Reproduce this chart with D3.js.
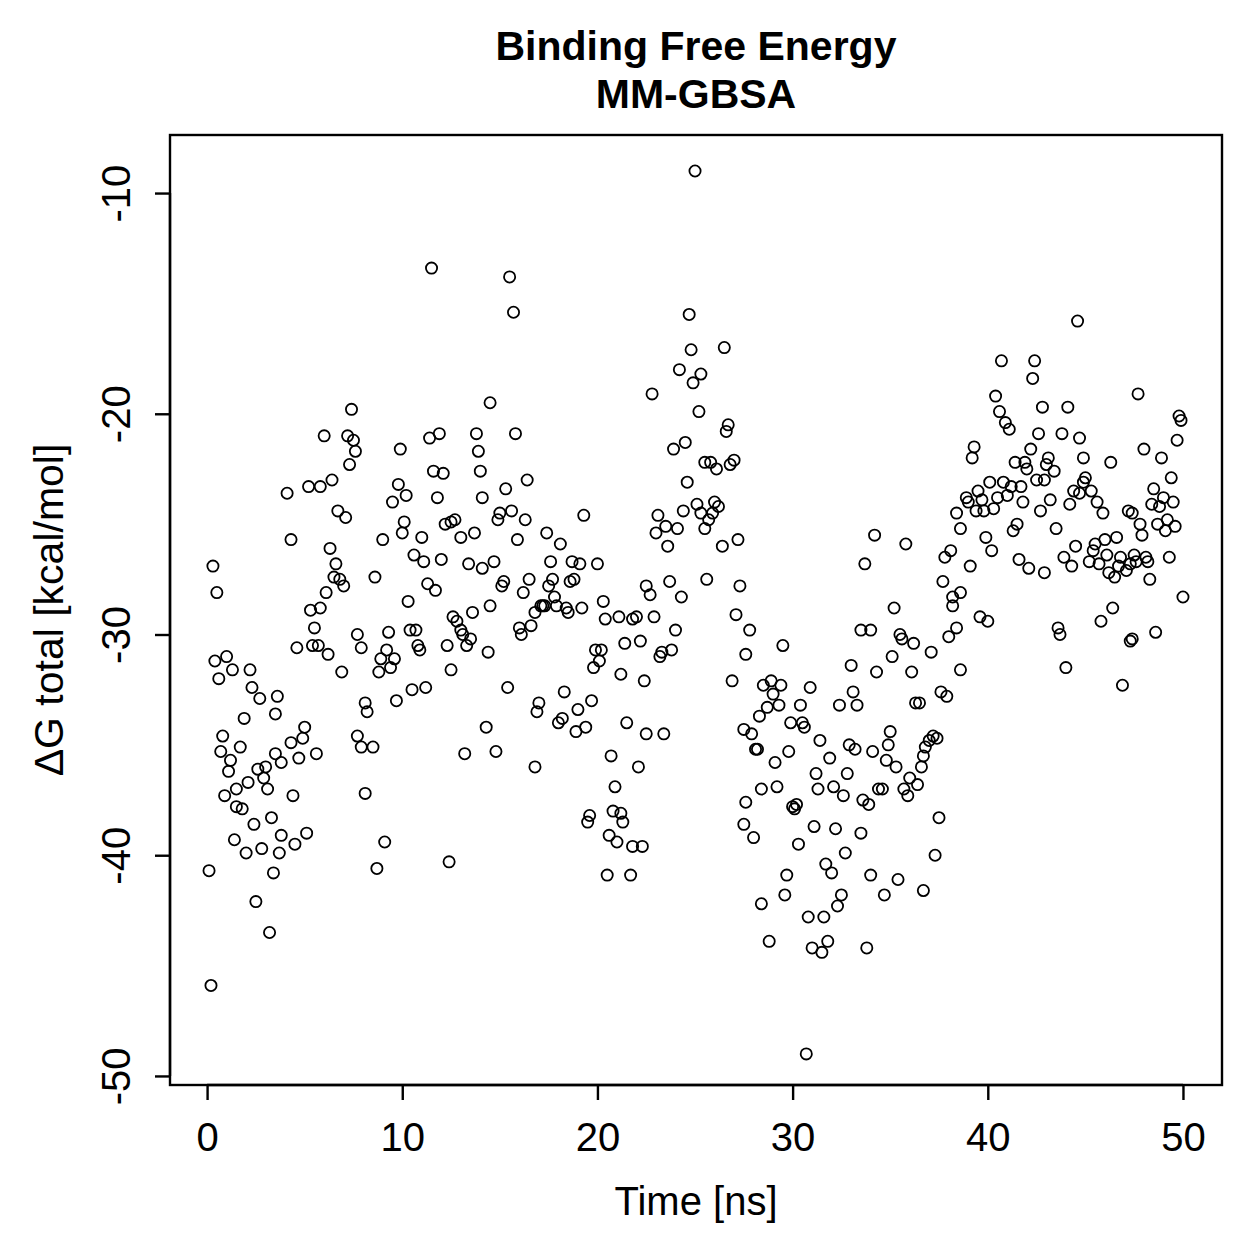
<!DOCTYPE html>
<html><head><meta charset="utf-8">
<script src="https://cdn.jsdelivr.net/npm/d3@7"></script>
<style>body{margin:0;background:#fff}svg{display:block}text{font-family:"Liberation Sans",Arial,Helvetica,sans-serif}</style>
</head><body>
<svg id="c" width="1259" height="1259"></svg>
<script>
const titleLines = ["Binding Free Energy", "MM-GBSA"];
const xLabel = "Time [ns]";
const yLabel = "\u0394G total [kcal/mol]";
const xTicks = [0, 10, 20, 30, 40, 50];
const yTicks = [-50, -40, -30, -20, -10];

const time = [
0.3,0.5,0.4,1.0,1.3,2.2,0.6,2.3,2.7,3.6,3.5,1.9,0.8,0.7,1.7,1.2,1.1,3.5,3.8,2.6,3.0,2.9,3.1,2.1,1.5,0.9,1.5,1.8,3.3,2.4,3.8,1.4,2.8,2.0,3.7,0.1,3.4,2.5,3.2,0.2,
7.4,6.0,7.2,7.5,7.6,7.3,4.1,5.2,5.8,6.4,6.7,7.1,4.3,6.3,6.6,6.5,6.8,7.0,6.1,5.3,5.8,5.5,7.7,4.6,7.9,5.4,5.7,6.2,6.9,5.0,4.9,4.3,4.7,5.6,7.7,7.9,8.1,4.4,4.5,5.1,8.1,8.2,
11.5,11.9,11.4,9.9,11.6,12.1,9.8,10.2,9.5,11.8,10.1,10.0,12.2,12.5,9.0,11.0,10.6,11.1,12.0,8.6,11.3,11.7,10.3,9.3,10.4,10.7,10.8,10.9,9.2,8.9,9.6,8.8,9.4,12.3,12.5,10.5,11.2,9.7,8.5,9.1,8.7,12.4,
15.5,15.7,14.5,13.8,15.8,13.9,14.0,14.1,16.4,15.3,15.6,15.0,14.9,16.3,15.9,12.7,13.0,13.7,13.4,14.1,14.7,15.2,15.1,16.5,16.2,16.8,16.6,14.5,13.6,12.6,12.8,13.0,13.1,13.5,13.3,16.0,16.1,14.4,15.4,14.3,13.2,14.8,
19.3,17.4,18.1,17.6,18.7,19.1,20.0,17.7,17.5,18.6,18.8,17.8,17.1,17.2,17.3,17.9,18.4,18.5,19.2,20.3,20.4,21.1,19.9,20.2,20.1,19.8,21.4,21.2,18.3,17.0,16.9,19.0,19.7,18.2,18.0,18.9,19.4,21.5,16.8,20.7,20.9,20.8,21.2,19.6,19.5,21.3,20.6,21.0,20.5,
25.0,24.7,24.8,24.2,25.3,22.8,24.9,25.2,23.9,24.5,24.6,24.4,25.1,25.3,23.1,23.0,23.5,24.1,23.6,25.6,22.5,22.7,23.7,24.3,21.8,22.0,22.9,24.0,22.2,23.3,23.2,23.8,22.4,22.5,23.4,22.1,21.8,22.3,21.7,
26.5,26.7,26.6,25.5,25.8,26.1,26.8,27.0,26.0,26.2,25.9,25.7,25.5,26.4,27.2,27.3,27.1,27.8,27.6,26.9,28.5,28.9,29.4,29.0,28.7,29.3,28.3,27.5,27.9,28.1,28.2,29.1,28.4,29.2,27.6,27.5,28.0,28.4,28.8,
34.2,33.7,33.5,34.0,29.5,33.0,34.3,30.9,33.1,33.3,30.4,32.4,29.9,30.5,30.6,29.8,31.4,31.9,32.9,33.2,34.1,31.2,32.8,31.3,32.1,32.6,33.6,33.9,30.0,30.1,30.2,30.3,31.1,32.2,33.5,32.7,31.7,32.0,29.7,29.6,34.0,32.5,32.3,30.8,31.6,31.8,31.0,31.5,33.8,30.7,
38.4,38.6,35.8,38.1,37.8,37.7,38.2,38.2,38.6,35.2,38.4,38.0,35.5,35.6,36.2,37.1,35.1,36.1,38.6,37.6,37.9,36.3,36.5,35.0,34.9,34.8,35.3,37.2,37.4,37.0,36.8,36.7,36.6,36.0,35.7,36.4,35.9,34.4,34.6,37.5,37.3,35.4,34.7,36.7,
40.7,42.4,42.3,40.4,40.6,40.9,41.1,42.8,42.6,39.3,39.2,42.2,41.4,41.9,42.0,43.0,43.1,40.1,40.8,41.2,41.7,42.5,42.9,39.5,38.9,39.0,39.7,40.5,41.0,39.4,39.8,40.3,41.8,42.7,43.2,41.5,41.3,39.9,40.2,41.6,42.1,42.9,39.1,39.6,40.0,
44.6,44.1,43.8,44.7,43.4,44.9,46.3,45.0,44.9,45.3,44.4,44.7,45.6,45.9,44.2,43.5,44.5,46.0,46.6,45.5,45.4,43.9,44.3,45.2,45.7,46.1,46.2,46.5,46.8,46.7,47.1,46.4,45.8,43.6,43.7,44.0,46.9,
47.7,49.8,49.9,49.7,48.0,48.9,49.4,48.5,49.0,49.5,48.4,48.8,47.2,47.4,47.8,47.9,49.2,48.7,49.1,49.6,47.5,48.1,47.6,48.2,47.3,49.3,48.3,50.0,47.4,47.3,48.6
];

const dG = [
-26.9,-28.1,-31.2,-31.0,-31.6,-31.6,-32.0,-32.4,-32.9,-32.8,-33.6,-33.8,-34.6,-35.3,-35.1,-35.7,-36.2,-35.4,-35.8,-36.1,-36.0,-36.5,-37.0,-36.7,-37.0,-37.3,-37.8,-37.9,-38.3,-38.6,-39.1,-39.3,-39.7,-39.9,-39.9,-40.7,-40.8,-42.1,-43.5,-45.9,
-19.8,-21.0,-21.0,-21.2,-21.7,-22.3,-23.6,-23.3,-23.3,-23.0,-24.4,-24.7,-25.7,-26.1,-26.8,-27.4,-27.5,-27.8,-28.1,-28.9,-28.8,-29.7,-30.0,-30.6,-30.6,-30.5,-30.5,-30.9,-31.7,-34.2,-34.7,-34.9,-35.6,-35.4,-34.6,-35.1,-37.2,-37.3,-39.5,-39.0,-33.1,-33.5,
-13.4,-20.9,-21.1,-21.6,-22.6,-22.7,-23.2,-23.7,-24.0,-23.8,-24.9,-25.4,-25.0,-24.9,-25.7,-25.6,-26.4,-26.7,-26.6,-27.4,-27.7,-28.0,-28.5,-29.9,-29.8,-29.8,-30.5,-30.7,-30.7,-31.1,-31.1,-31.7,-31.5,-30.5,-31.6,-32.5,-32.4,-33.0,-35.1,-39.4,-40.6,-40.3,
-13.8,-15.4,-19.5,-20.9,-20.9,-21.7,-22.6,-23.8,-23.0,-23.4,-24.4,-24.5,-24.8,-24.8,-25.7,-24.8,-25.6,-25.4,-26.8,-27.0,-26.7,-27.6,-27.8,-27.5,-28.1,-29.0,-29.6,-28.7,-29.0,-29.2,-29.4,-29.8,-30.0,-30.2,-30.5,-29.7,-30.0,-30.8,-32.4,-34.2,-35.4,-35.3,
-24.6,-25.4,-25.9,-26.7,-26.7,-26.8,-26.8,-27.5,-27.8,-27.6,-27.5,-28.3,-28.7,-28.7,-28.7,-28.7,-28.8,-29.0,-28.8,-28.5,-29.3,-29.2,-30.7,-30.7,-31.2,-31.5,-30.4,-31.8,-32.6,-33.1,-33.5,-33.4,-33.0,-33.8,-34.0,-34.4,-34.2,-34.0,-36.0,-35.5,-36.9,-38.0,-38.1,-38.2,-38.5,-38.5,-39.1,-39.4,-40.9,
-9.0,-15.5,-17.1,-18.0,-18.2,-19.1,-18.6,-19.9,-21.6,-21.3,-23.1,-24.4,-24.1,-24.5,-24.6,-25.4,-25.1,-25.2,-26.0,-27.5,-27.8,-28.2,-27.6,-28.3,-29.3,-29.2,-29.2,-29.8,-30.3,-30.8,-31.0,-30.7,-32.1,-34.5,-34.5,-36.0,-39.6,-39.6,-40.9,
-17.0,-20.5,-20.8,-22.2,-22.2,-22.5,-22.3,-22.1,-24.0,-24.2,-24.5,-24.8,-25.2,-26.0,-25.7,-27.8,-29.1,-29.8,-30.9,-32.1,-32.3,-32.1,-32.3,-32.7,-33.3,-33.2,-33.7,-34.3,-34.5,-35.2,-35.2,-35.8,-37.0,-36.9,-37.6,-38.6,-39.2,-42.2,-43.9,
-25.5,-26.8,-29.8,-29.8,-30.5,-31.4,-31.7,-32.4,-32.6,-33.2,-33.2,-33.2,-34.0,-34.0,-34.2,-35.3,-34.8,-35.6,-35.0,-35.2,-35.3,-36.3,-36.3,-37.0,-36.9,-37.3,-37.5,-37.7,-37.8,-37.9,-37.7,-39.5,-38.7,-38.8,-39.0,-39.9,-40.4,-40.8,-40.9,-41.8,-40.9,-41.8,-42.3,-42.8,-42.8,-43.9,-44.2,-44.4,-44.2,-49.0,
-24.5,-25.2,-25.9,-26.2,-26.5,-27.6,-28.3,-28.7,-28.1,-28.8,-29.7,-30.1,-30.0,-30.2,-30.4,-30.8,-31.0,-31.7,-31.6,-32.6,-32.8,-33.1,-33.1,-34.4,-35.0,-35.7,-36.0,-34.6,-34.7,-34.8,-35.1,-35.5,-36.0,-36.5,-37.0,-36.8,-37.3,-37.0,-37.0,-38.3,-40.0,-41.1,-41.8,-41.6,
-17.6,-17.6,-18.4,-19.2,-19.9,-20.4,-20.7,-19.7,-20.9,-21.5,-22.0,-21.6,-22.2,-22.2,-22.5,-22.3,-22.0,-23.1,-23.1,-23.3,-23.3,-23.0,-23.0,-23.5,-23.8,-24.0,-23.9,-23.8,-23.7,-24.4,-24.4,-24.3,-24.0,-24.4,-23.9,-25.0,-25.3,-25.6,-26.2,-26.6,-27.0,-27.2,-26.9,-29.2,-29.4,
-15.8,-19.7,-20.9,-21.1,-22.6,-22.0,-22.2,-22.9,-23.1,-23.5,-23.5,-23.6,-24.0,-24.5,-24.1,-25.2,-26.0,-25.7,-25.6,-25.9,-26.2,-26.5,-26.9,-26.7,-26.8,-26.4,-27.2,-27.4,-26.5,-26.9,-27.1,-28.8,-29.4,-29.7,-30.0,-31.5,-32.3,
-19.1,-20.1,-20.3,-21.2,-21.6,-22.0,-22.9,-23.4,-23.8,-24.0,-24.1,-24.2,-24.4,-24.5,-25.0,-25.5,-24.8,-25.0,-25.3,-25.1,-26.4,-26.5,-26.7,-26.7,-26.8,-26.5,-27.5,-28.3,-30.2,-30.3,-29.9
];

const plot = {left: 170, right: 1222, top: 135, bottom: 1085};
const svg = d3.select("#c");

const x = d3.scaleLinear().domain([-1.9, 52.0]).range([plot.left, plot.right]);
const y = d3.scaleLinear().domain([-50.41, -7.37]).range([plot.bottom, plot.top]);

const data = time.map((t, i) => ({t, v: dG[i]}));

svg.append("g").selectAll("circle").data(data).join("circle")
  .attr("cx", d => x(d.t)).attr("cy", d => y(d.v)).attr("r", 5.6)
  .attr("fill", "none").attr("stroke", "#000").attr("stroke-width", 1.8);

svg.append("rect").attr("x", plot.left).attr("y", plot.top)
  .attr("width", plot.right - plot.left).attr("height", plot.bottom - plot.top)
  .attr("fill", "none").attr("stroke", "#000").attr("stroke-width", 2.4);

const fs = 40;
const xAxis = d3.axisBottom(x).tickValues(xTicks).tickSize(15).tickPadding(23).tickFormat(d3.format("d"));
const gx = svg.append("g").attr("transform", `translate(0,${plot.bottom})`).call(xAxis);
gx.select(".domain").attr("d", `M${x(xTicks[0])},0H${x(xTicks[xTicks.length-1])}`).attr("stroke-width", 2.4);
gx.selectAll(".tick line").attr("stroke-width", 2.4);
gx.selectAll(".tick text").attr("font-size", fs).attr("font-family", "Liberation Sans, Arial, sans-serif").attr("fill", "#000");

const yAxis = d3.axisLeft(y).tickValues(yTicks).tickSize(15).tickFormat(d => d3.format("d")(d).replace("\u2212", "-"));
const gy = svg.append("g").attr("transform", `translate(${plot.left},0)`).call(yAxis);
gy.select(".domain").attr("d", `M0,${y(yTicks[0])}V${y(yTicks[yTicks.length-1])}`).attr("stroke-width", 2.4);
gy.selectAll(".tick line").attr("stroke-width", 2.4);
gy.selectAll(".tick text")
  .attr("font-size", fs).attr("font-family", "Liberation Sans, Arial, sans-serif").attr("fill", "#000")
  .attr("x", null).attr("dy", null)
  .attr("transform", "translate(-40,0) rotate(-90)")
  .attr("text-anchor", "middle");

const cx = (plot.left + plot.right) / 2;
svg.append("text").attr("x", cx).attr("y", 60).attr("text-anchor", "middle")
  .attr("font-size", 41).attr("font-weight", "bold").text(titleLines[0]);
svg.append("text").attr("x", cx).attr("y", 108).attr("text-anchor", "middle")
  .attr("font-size", 41).attr("font-weight", "bold").text(titleLines[1]);
svg.append("text").attr("x", cx).attr("y", 1215).attr("text-anchor", "middle")
  .attr("font-size", fs).text(xLabel);
svg.append("text").attr("transform", `translate(63,${(plot.top + plot.bottom)/2}) rotate(-90)`)
  .attr("text-anchor", "middle").attr("font-size", 41).text(yLabel);
</script>
</body></html>
